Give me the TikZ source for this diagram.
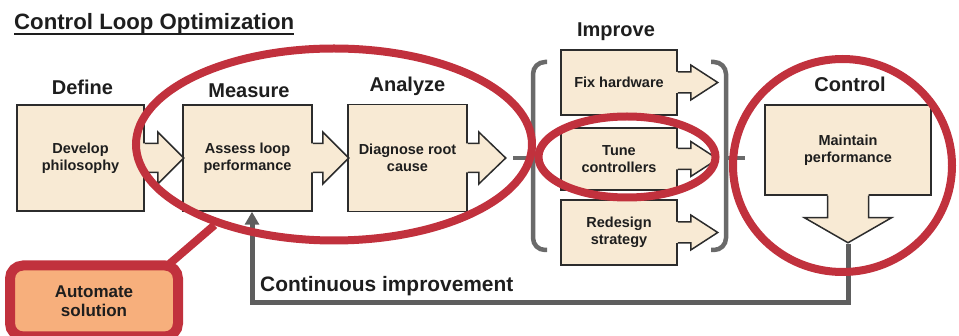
\documentclass[tikz,border=0pt]{standalone}
\usepackage{fontspec}
\setmainfont{Liberation Sans}
\usetikzlibrary{arrows.meta,shapes.geometric}

\definecolor{cream}{HTML}{F8EAD4}
\definecolor{boxline}{HTML}{2C2C2C}
\definecolor{ink}{HTML}{1E1E1E}
\definecolor{ringred}{HTML}{C1313D}
\definecolor{loopgray}{HTML}{5E5E5E}
\definecolor{bracegray}{HTML}{6A6A6A}
\definecolor{autofill}{HTML}{F7AF7C}

\tikzset{
  stagebox/.style={draw=boxline, fill=cream, line width=1.5pt, inner sep=0pt,
    align=center, text=ink, font=\fontsize{14.5}{17}\selectfont\bfseries},
  phase/.style={anchor=base, inner sep=0pt, text=ink,
    font=\fontsize{20}{24}\selectfont\bfseries},
  flowline/.style={draw=boxline, line width=1.5pt, line join=miter},
  halo/.style={draw=ringred, line width=8pt, ellipse, inner sep=0pt},
  bracket/.style={draw=bracegray, line width=4.5pt},
  feedback/.style={draw=loopgray, line width=5pt},
  autobox/.style={draw=ringred, fill=autofill, line width=10pt, rounded corners=13pt,
    inner sep=0pt, align=center, text=ink, font=\fontsize{17}{19.5}\selectfont\bfseries},
}

% block arrow leaving the east side of a box:
% #1 box, #2 stem length, #3 head length, #4 stem half-height, #5 head half-height
\newcommand{\eastflow}[5]{%
  \fill[cream] ([xshift=-2pt,yshift=#4pt]#1.east) -- ++(#2+2,0) -- ++(0,{-(#5-#4)})
    -- ++(#3,#5) -- ++(-#3,#5) -- ++(0,{-(#5-#4)}) -- ++(-#2-2,0) -- cycle;
  \draw[flowline] ([yshift=#4pt]#1.east) -- ++(#2,0) -- ++(0,{-(#5-#4)})
    -- ++(#3,#5) -- ++(-#3,#5) -- ++(0,{-(#5-#4)}) -- ++(-#2,0);
}

\begin{document}
\begin{tikzpicture}[x=1pt, y=-1pt]
  \useasboundingbox (0,0) rectangle (959,336);

  % title
  \node[anchor=base west, inner sep=0pt, text=ink,
        font=\fontsize{22.2}{26}\selectfont\bfseries] (title) at (14,30) {Control Loop Optimization};
  \draw[ink, line width=1.8pt] ([yshift=-4pt]title.base west) -- ([yshift=-4pt]title.base east);

  % phase headings
  \node[phase] (hdefine)  at (82.5,95)  {Define};
  \node[phase] (hmeasure) at (249,98)   {Measure};
  \node[phase] (hanalyze) at (407.5,92) {Analyze};
  \node[phase] (himprove) at (616,37)   {Improve};
  \node[phase] (hcontrol) at (850,92)   {Control};

  % main stages
  \node[stagebox, minimum width=127pt, minimum height=106pt] (define)  at (80.5,158)  {Develop\\philosophy};
  \node[stagebox, minimum width=129pt, minimum height=106pt] (measure) at (247.5,158) {Assess loop\\performance};
  \node[stagebox, minimum width=119pt, minimum height=107pt] (analyze) at (407.5,158) {Diagnose root\\cause};

  \eastflow{define}{13}{26}{14.5}{26}
  \eastflow{measure}{10}{26}{14.5}{26}
  \eastflow{analyze}{11}{27}{14.5}{26}

  % improvement options
  \node[stagebox, minimum width=116pt, minimum height=65pt] (fixhw)    at (619,82.5)  {Fix hardware};
  \node[stagebox, minimum width=116pt, minimum height=62pt] (tune)     at (619,159)   {Tune\\controllers};
  \node[stagebox, minimum width=116pt, minimum height=65pt] (redesign) at (619,232.5) {Redesign\\strategy};

  \eastflow{fixhw}{13}{27}{10.5}{17.5}
  \eastflow{tune}{13}{27}{10.5}{17.5}
  \eastflow{redesign}{13}{27}{10.5}{17.5}

  % brackets grouping the options
  \draw[bracket, rounded corners=12pt] (547,62) -- (533,62) -- (533,250) -- (547,250);
  \draw[bracket] (533,158) -- (513,158);
  \draw[bracket, rounded corners=12pt] (711,62) -- (726,62) -- (726,250) -- (711,250);
  \draw[bracket] (726,158) -- (745,158);

  % control stage with its downward arrow
  \node[stagebox, minimum width=166pt, minimum height=90pt] (control) at (848,150) {Maintain\\performance};
  \fill[cream] ([xshift=-20.5pt,yshift=2pt]control.south) -- ++(0,24) -- ++(-23,0)
    -- ++(43.5,25) -- ++(43.5,-25) -- ++(-23,0) -- ++(0,-24) -- cycle;
  \draw[flowline] ([xshift=-20.5pt]control.south) -- ++(0,22) -- ++(-23,0)
    -- ++(43.5,25) -- ++(43.5,-25) -- ++(-23,0) -- ++(0,-22);
  \coordinate (ctip) at ([yshift=-47pt]control.south);

  % continuous improvement loop
  \draw[feedback, -{Triangle[length=13pt,width=14pt]}]
    ([yshift=-1pt]ctip) -- ++(0,59) -| ([xshift=4.5pt]measure.south);
  \node[anchor=base west, inner sep=0pt, text=ink,
        font=\fontsize{20.9}{24}\selectfont\bfseries] (loopnote) at (260,292) {Continuous improvement};

  % highlight rings
  \node[halo, minimum width=396pt, minimum height=192pt] (focus)    at (334,144.5) {};
  \node[halo, minimum width=177pt, minimum height=81pt]  (tunering) at (627,157)   {};
  \node[halo, minimum width=219pt, minimum height=213pt] (ctrlring) at (842.5,165.5) {};

  % automation call-out
  \draw[draw=ringred, line width=8pt] (focus.214) -- (167,266);
  \node[autobox, minimum width=168pt, minimum height=71pt] (automate) at (94,301) {Automate\\solution};
\end{tikzpicture}
\end{document}
